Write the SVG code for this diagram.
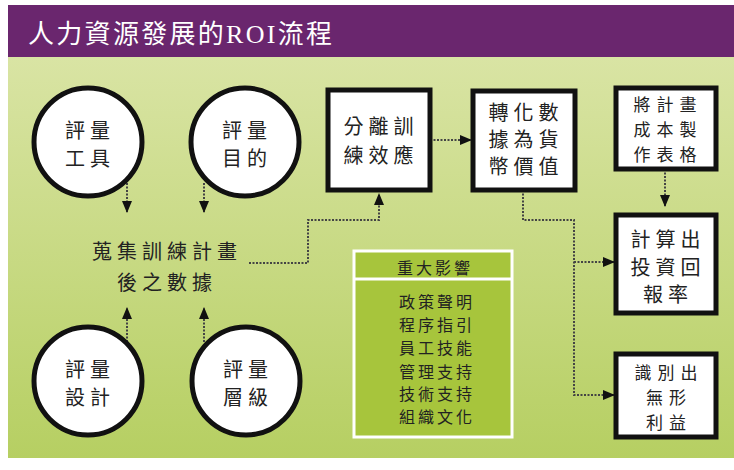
<svg xmlns="http://www.w3.org/2000/svg" width="734" height="470" viewBox="0 0 734 470">
<defs>
<linearGradient id="bg" x1="0" y1="0" x2="0" y2="1">
<stop offset="0" stop-color="#d9e4a4"/>
<stop offset="1" stop-color="#b6cf62"/>
</linearGradient>
<marker id="ah" viewBox="0 0 12 10" refX="11" refY="5" markerWidth="12" markerHeight="10" markerUnits="userSpaceOnUse" orient="auto">
<path d="M0,0 L12,5 L0,10 Z" fill="#111"/>
</marker>
<style>
.c{fill:#fff;stroke:#111;stroke-width:5}
.b{fill:#fff;stroke:#111;stroke-width:5}
.t{font-family:"Noto Sans CJK TC","Noto Sans CJK SC",sans-serif;font-size:20px;fill:#222;text-anchor:middle;letter-spacing:5px}
.m{font-family:"Noto Sans CJK TC","Noto Sans CJK SC",sans-serif;font-size:17px;fill:#222;text-anchor:middle;letter-spacing:6px}
.s{font-family:"Noto Sans CJK TC","Noto Sans CJK SC",sans-serif;font-size:16px;fill:#222;text-anchor:middle;letter-spacing:3px}
.d{fill:none;stroke:#444;stroke-width:2;stroke-dasharray:2 1.5}
</style>
</defs>
<rect x="0" y="0" width="734" height="470" fill="#fff"/>
<rect x="8" y="57" width="726" height="401" fill="url(#bg)"/>
<rect x="8" y="5" width="726" height="52" fill="#6a266e"/>
<text x="28" y="43" font-family="'Liberation Serif','Noto Sans CJK TC',serif" font-size="26" fill="#fff" letter-spacing="2.3">人力資源發展的ROI流程</text>

<g id="connectors">
<path class="d" d="M127,183 V212" marker-end="url(#ah)"/>
<path class="d" d="M204,183 V212" marker-end="url(#ah)"/>
<path class="d" d="M127,342 V308" marker-end="url(#ah)"/>
<path class="d" d="M204,342 V308" marker-end="url(#ah)"/>
<path class="d" d="M249,263 H308 V220 H379 V194" marker-end="url(#ah)"/>
<path class="d" d="M430,140 H471" marker-end="url(#ah)"/>
<path class="d" d="M665,169 V206" marker-end="url(#ah)"/>
<path class="d" d="M523,190 V220 H574 V395 H614" marker-end="url(#ah)"/>
<path class="d" d="M574,262 H614" marker-end="url(#ah)"/>
</g>

<g id="n-tool">
<circle class="c" cx="88" cy="142" r="54"/>
<text class="t" x="90" y="138">評量</text>
<text class="t" x="90" y="166">工具</text>
</g>
<g id="n-purpose">
<circle class="c" cx="245" cy="142" r="54"/>
<text class="t" x="247" y="138">評量</text>
<text class="t" x="247" y="166">目的</text>
</g>
<g id="n-design">
<circle class="c" cx="88" cy="381" r="54"/>
<text class="t" x="90" y="377">評量</text>
<text class="t" x="90" y="405">設計</text>
</g>
<g id="n-level">
<circle class="c" cx="246" cy="381" r="54"/>
<text class="t" x="248" y="377">評量</text>
<text class="t" x="248" y="405">層級</text>
</g>
<g id="n-collect">
<text class="t" x="167" y="259">蒐集訓練計畫</text>
<text class="t" x="167" y="290">後之數據</text>
</g>
<g id="n-isolate">
<rect class="b" x="328" y="90" width="102" height="100"/>
<text class="t" x="381" y="134">分離訓</text>
<text class="t" x="381" y="163">練效應</text>
</g>
<g id="n-convert">
<rect class="b" x="473" y="91" width="102" height="99"/>
<text class="t" x="526" y="120">轉化數</text>
<text class="t" x="526" y="147">據為貨</text>
<text class="t" x="526" y="174">幣價值</text>
</g>
<g id="n-cost">
<rect class="b" x="616" y="88" width="100" height="81"/>
<text class="m" x="668" y="111">將計畫</text>
<text class="m" x="668" y="136">成本製</text>
<text class="m" x="668" y="161">作表格</text>
</g>
<g id="n-roi">
<rect class="b" x="616" y="215" width="100" height="98"/>
<text class="t" x="668" y="247">計算出</text>
<text class="t" x="668" y="275">投資回</text>
<text class="t" x="668" y="302">報率</text>
</g>
<g id="n-intangible">
<rect class="b" x="616" y="354" width="100" height="83"/>
<text class="m" x="669" y="379">識別出</text>
<text class="m" x="669" y="404">無形</text>
<text class="m" x="669" y="429">利益</text>
</g>
<g id="n-impact">
<rect x="354" y="251" width="158" height="186" fill="#a7c53c" stroke="#fff" stroke-width="3"/>
<line x1="354" y1="279" x2="512" y2="279" stroke="#fff" stroke-width="3"/>
<text class="s" x="435" y="274">重大影響</text>
<text class="s" x="437" y="308">政策聲明</text>
<text class="s" x="437" y="331">程序指引</text>
<text class="s" x="437" y="354">員工技能</text>
<text class="s" x="437" y="378">管理支持</text>
<text class="s" x="437" y="400">技術支持</text>
<text class="s" x="437" y="423">組織文化</text>
</g>
</svg>
